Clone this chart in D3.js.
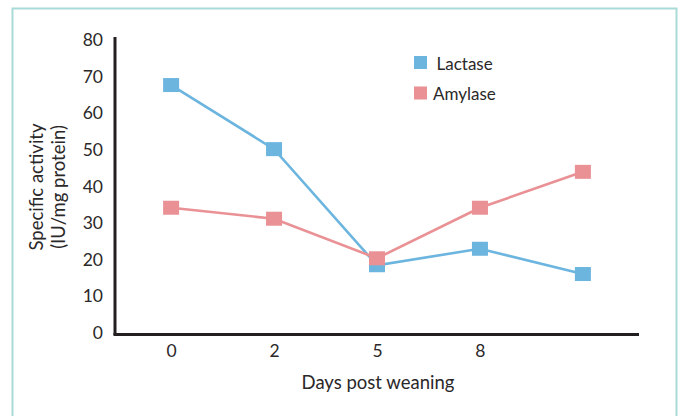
<!DOCTYPE html>
<html><head><meta charset="utf-8">
<script src="https://cdn.jsdelivr.net/npm/d3@7"></script>
<style>
html,body{margin:0;padding:0;background:#fff;}
svg{display:block;font-family:Lato,"Open Sans",sans-serif;font-weight:400;}
</style></head>
<body>
<svg id="chart" width="683" height="416"></svg>
<script>
const categories = ["0","2","5","8",""];
const lactase = [67.7, 50.2, 18.5, 23, 16.1];
const amylase = [34.2, 31.2, 20.4, 34.2, 44];
const yTicks = [0,10,20,30,40,50,60,70,80];
const seriesNames = ["Lactase","Amylase"];
const seriesColors = ["#6cb5df","#e99194"];

const svg = d3.select("#chart");
svg.append("path")
  .attr("d","M12.5,430 V8.5 H676.5 V430")
  .attr("fill","none").attr("stroke","#a9dcd8").attr("stroke-width",2);

const x = d3.scalePoint().domain(categories.map((c,i)=>i)).range([115,639]).padding(0.545);
const y = d3.scaleLinear().domain([0,80]).range([333,40]);
const FF = "Lato,'Open Sans',sans-serif";
const TXT = "#2b2829";

const gy = svg.append("g").attr("transform","translate(115,0)")
  .call(d3.axisLeft(y).tickValues(yTicks).tickSize(0).tickPadding(12));
gy.select(".domain").attr("stroke","#231f20").attr("stroke-width",3)
  .attr("d","M0,37V335");
gy.selectAll("text").attr("font-size",17.5).attr("fill",TXT).attr("font-family",FF).attr("font-weight",400);

const gx = svg.append("g").attr("transform","translate(0,334.5)")
  .call(d3.axisBottom(x).tickFormat(i=>categories[i]).tickSize(0).tickPadding(10));
gx.select(".domain").attr("stroke","#231f20").attr("stroke-width",3).attr("d","M113.5,0H639");
gx.selectAll("text").attr("font-size",17.5).attr("fill",TXT).attr("font-family",FF).attr("font-weight",400);

svg.append("text").attr("x",378).attr("y",389).attr("text-anchor","middle")
  .attr("font-size",18.5).attr("fill",TXT).text("Days post weaning");
const yl = svg.append("text").attr("transform","translate(0,187) rotate(-90)")
  .attr("text-anchor","middle").attr("font-size",18.5).attr("fill",TXT);
yl.append("tspan").attr("x",0).attr("y",43).text("Specific activity");
yl.append("tspan").attr("x",0).attr("y",65).text("(IU/mg protein)");

const all = [lactase, amylase];
const line = d3.line().x((d,i)=>x(i)).y(d=>y(d));
all.forEach((vals,k)=>{
  svg.append("path").datum(vals).attr("d",line).attr("fill","none")
    .attr("stroke",seriesColors[k]).attr("stroke-width",2.6);
});
all.forEach((vals,k)=>{
  svg.append("g").selectAll("rect").data(vals).join("rect")
    .attr("x",(d,i)=>x(i)-8).attr("y",d=>y(d)-7)
    .attr("width",16).attr("height",14).attr("fill",seriesColors[k]);
});

const lg = svg.append("g");
seriesNames.forEach((n,k)=>{
  lg.append("rect").attr("x",414).attr("y",56+k*30.5).attr("width",13).attr("height",13).attr("fill",seriesColors[k]);
  lg.append("text").attr("x",k===0?436.5:433).attr("y",69.5+k*30.5).attr("font-size",17).attr("fill",TXT).text(n);
});
</script>
</body></html>
